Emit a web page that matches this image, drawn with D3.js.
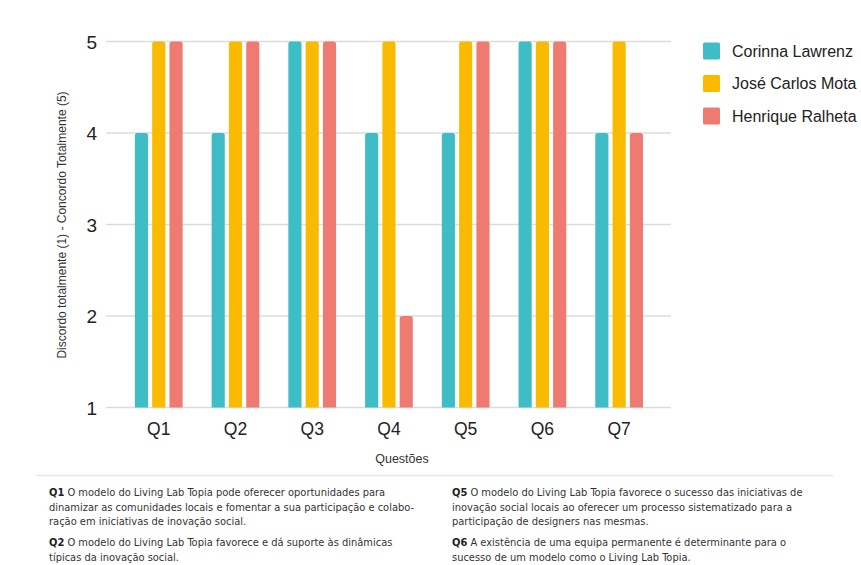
<!DOCTYPE html>
<html><head><meta charset="utf-8">
<script src="https://cdn.jsdelivr.net/npm/d3@7"></script>
<style>body{margin:0;background:#fff}svg{display:block}</style>
</head><body>
<svg id="c" width="861" height="565"></svg>
<script>
const categories = ["Q1","Q2","Q3","Q4","Q5","Q6","Q7"];
const seriesNames = ["Corinna Lawrenz","José Carlos Mota","Henrique Ralheta"];
const corinna = [4,4,5,4,4,5,4];
const jose = [5,5,5,5,5,5,5];
const henrique = [5,5,5,2,5,5,4];
const yTicks = [1,2,3,4,5];
const colors = ["#3FBDC6","#F9BA00","#EF7A72"];
const yTitle = "Discordo totalmente (1) - Concordo Totalmente (5)";
const xTitle = "Questões";
const notesLeft = [
  {q:"Q1", lines:["O modelo do Living Lab Topia pode oferecer oportunidades para","dinamizar as comunidades locais e fomentar a sua participação e colabo-","ração em iniciativas de inovação social."]},
  {q:"Q2", lines:["O modelo do Living Lab Topia favorece e dá suporte às dinâmicas","típicas da inovação social."]}
];
const notesRight = [
  {q:"Q5", lines:["O modelo do Living Lab Topia favorece o sucesso das iniciativas de","inovação social locais ao oferecer um processo sistematizado para a","participação de designers nas mesmas."]},
  {q:"Q6", lines:["A existência de uma equipa permanente é determinante para o","sucesso de um modelo como o Living Lab Topia."]}
];

const series = [corinna, jose, henrique];
const svg = d3.select("#c");
const font = "'Liberation Sans', Arial, Helvetica, sans-serif";

const x = d3.scaleBand().domain(categories).range([120.4, 657.5]).paddingInner(0.378).paddingOuter(0.189);
const xs = d3.scaleBand().domain(d3.range(3)).range([0, x.bandwidth()]).paddingInner(0.24);
const y = d3.scaleLinear().domain([1,5]).range([407.5, 41.5]);

// grid
svg.append("g").selectAll("line").data(yTicks).join("line")
  .attr("x1",106).attr("x2",671).attr("y1",d=>y(d)).attr("y2",d=>y(d))
  .attr("stroke","#dcdcdc").attr("stroke-width",1.5);

// y axis labels
const yAxis = d3.axisLeft(y).tickValues(yTicks).tickSize(0).tickPadding(0).tickFormat(d3.format("d"));
const yg = svg.append("g").attr("transform","translate(97,0)").call(yAxis);
yg.select(".domain").remove();
yg.selectAll("text").attr("font-family",font).attr("font-size",19).attr("fill","#222").attr("dy","0.35em");

// x axis labels
const xAxis = d3.axisBottom(x).tickSize(0).tickPadding(0);
const xg = svg.append("g").attr("transform","translate(0,423)").call(xAxis);
xg.select(".domain").remove();
xg.selectAll("text").attr("font-family",font).attr("font-size",17.5).attr("fill","#222").attr("dy","0.71em");

// bars with rounded tops
function topRounded(x0, y0, w, h, r){
  r = Math.min(r, w/2, h);
  return `M${x0},${y0+h}V${y0+r}Q${x0},${y0} ${x0+r},${y0}H${x0+w-r}Q${x0+w},${y0} ${x0+w},${y0+r}V${y0+h}Z`;
}
const groups = svg.append("g").selectAll("g").data(categories).join("g")
  .attr("transform",d=>`translate(${x(d)},0)`);
groups.selectAll("path").data((d,i)=>series.map((s,k)=>({k, v:s[i]}))).join("path")
  .attr("d",d=>topRounded(xs(d.k), y(d.v), xs.bandwidth(), y(1)-y(d.v), 2.5))
  .attr("fill",d=>colors[d.k]);

// axis titles
svg.append("text").attr("x",402).attr("y",463).attr("text-anchor","middle")
  .attr("font-family",font).attr("font-size",12.5).attr("fill","#333").text(xTitle);
svg.append("text").attr("transform","translate(66,225) rotate(-90)").attr("text-anchor","middle")
  .attr("font-family",font).attr("font-size",12).attr("fill","#333").text(yTitle);

// legend
const lg = svg.append("g").selectAll("g").data(seriesNames).join("g")
  .attr("transform",(d,i)=>`translate(703,${42.5+i*32.5})`);
lg.append("rect").attr("width",17).attr("height",17).attr("rx",1.5).attr("fill",(d,i)=>colors[i]);
lg.append("text").attr("x",29).attr("y",8.5).attr("dy","0.35em").attr("font-family",font)
  .attr("font-size",16).attr("fill","#222").text(d=>d);

// footer separator
svg.append("line").attr("x1",36).attr("x2",833).attr("y1",475.5).attr("y2",475.5)
  .attr("stroke","#e6e6e6").attr("stroke-width",1.5);

// notes
const nfont = "'Liberation Sans Narrow','DejaVu Sans Condensed', 'Liberation Sans', sans-serif";
function notes(data, x0, y0){
  let yy = y0;
  data.forEach(n=>{
    n.lines.forEach((ln,j)=>{
      const t = svg.append("text").attr("x",x0).attr("y",yy).attr("font-family",nfont)
        .attr("font-size",11).attr("fill","#333");
      if(j===0){
        t.append("tspan").attr("font-weight","bold").attr("fill","#222").text(n.q);
        t.append("tspan").text(" "+ln);
      } else t.text(ln);
      yy += 14.5;
    });
    yy += 6.5;
  });
}
notes(notesLeft, 49, 496);
notes(notesRight, 452, 496);
</script>
</body></html>
